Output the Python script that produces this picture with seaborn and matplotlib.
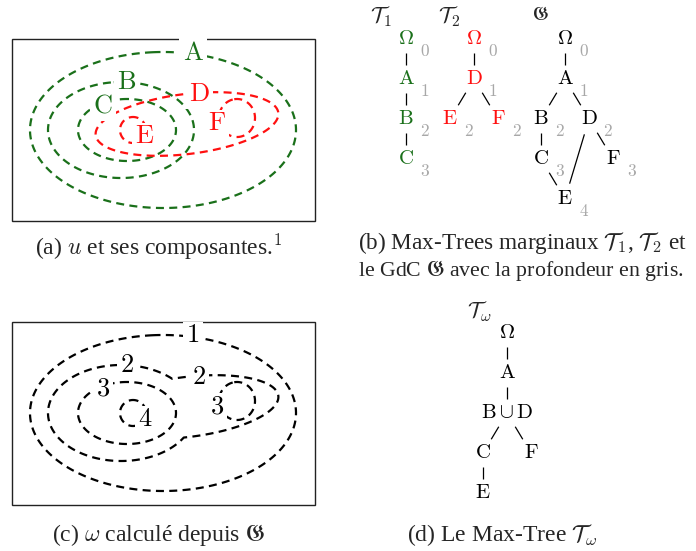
import numpy as np
import matplotlib
matplotlib.use('Agg')
import matplotlib.pyplot as plt
import seaborn as sns

sns.set_theme(style='white')
plt.rcParams['font.family'] = ['Liberation Serif', 'DejaVu Serif']
plt.rcParams['mathtext.fontset'] = 'cm'
plt.rcParams['lines.dashed_pattern'] = [3.6, 2.4]

# components of u (ellipses, in the coordinates of panel (a))
shape_names = ['A', 'B', 'C', 'D', 'E', 'F']
shape_cx = [163, 121, 127, 187, 133, 237]
shape_cy = [130, 130, 130, 124, 130, 118]
shape_rx = [133, 73, 49, 92, 13, 18]
shape_ry = [78, 48, 31, 30, 13, 19]
shape_angle = [0, 0, 0, -7, 0, 0]
shape_tree = [1, 1, 1, 2, 2, 2]
shape_omega = [1, 2, 3, 2, 4, 3]
label_x = [193, 127, 103, 199, 145, 217]
label_y = [53, 83, 106, 95, 137, 124]

GREEN = '#1a701a'
RED = '#ff1010'
GRAY = '#a8a8a8'
tree_colors = {1: GREEN, 2: RED}

# trees: node labels, depth, column
t1_nodes = [r'$\Omega$', r'$\mathrm{A}$', r'$\mathrm{B}$', r'$\mathrm{C}$']
t1_depth = [0, 1, 2, 3]
t1_col = [0, 0, 0, 0]
t1_edges = [(0, 1), (1, 2), (2, 3)]

t2_nodes = [r'$\Omega$', r'$\mathrm{D}$', r'$\mathrm{E}$', r'$\mathrm{F}$']
t2_depth = [0, 1, 2, 2]
t2_col = [0, 0, -1, 1]
t2_edges = [(0, 1), (1, 2), (1, 3)]

g_nodes = [r'$\Omega$', r'$\mathrm{A}$', r'$\mathrm{B}$', r'$\mathrm{D}$',
           r'$\mathrm{C}$', r'$\mathrm{F}$', r'$\mathrm{E}$']
g_depth = [0, 1, 2, 2, 3, 3, 4]
g_col = [0, 0, -1, 1, -1, 2, 0]
g_edges = [(0, 1), (1, 2), (1, 3), (2, 4), (3, 5), (4, 6), (3, 6)]

tw_nodes = [r'$\Omega$', r'$\mathrm{A}$', r'$\mathrm{B}\cup\mathrm{D}$',
            r'$\mathrm{C}$', r'$\mathrm{F}$', r'$\mathrm{E}$']
tw_depth = [0, 1, 2, 3, 3, 4]
tw_col = [0, 0, 0, -1, 1, -1]
tw_edges = [(0, 1), (1, 2), (2, 3), (2, 4), (3, 5)]

ROW = 40
COL = 24

fig = plt.figure(figsize=(6.96, 5.51), dpi=100)
ax = fig.add_axes([0, 0, 1, 1])
ax.set_xlim(0, 696)
ax.set_ylim(551, 0)
ax.axis('off')


def field(X, Y, i):
    t = np.deg2rad(shape_angle[i])
    dx = X - shape_cx[i]
    dy = Y - shape_cy[i]
    u = dx * np.cos(t) + dy * np.sin(t)
    v = -dx * np.sin(t) + dy * np.cos(t)
    return 1 - (u / shape_rx[i]) ** 2 - (v / shape_ry[i]) ** 2


xs = np.linspace(0, 330, 1321)
ys = np.linspace(30, 235, 821)
X, Y = np.meshgrid(xs, ys)
fields = [field(X, Y, i) for i in range(len(shape_names))]

# panel (a)
ax.add_patch(plt.Rectangle((12, 39), 303, 182, fill=False, ec='#222222', lw=1.0, zorder=1))
for i, name in enumerate(shape_names):
    c = tree_colors[shape_tree[i]]
    ax.contour(X, Y, fields[i], levels=[0], colors=[c], linewidths=1.6,
               linestyles='dashed', zorder=2)
    ax.text(label_x[i], label_y[i], r'$\mathrm{%s}$' % name, color=c, fontsize=19,
            ha='center', va='center', zorder=4,
            bbox=dict(boxstyle='square,pad=0.12', fc='white', ec='none'))

# panel (c): omega level sets
dy_c = 283
ax.add_patch(plt.Rectangle((12, 39 + dy_c), 303, 183, fill=False, ec='#222222', lw=1.0, zorder=1))
for lev in sorted(set(shape_omega)):
    f = np.max([fields[i] for i in range(len(shape_names)) if shape_omega[i] == lev], axis=0)
    ax.contour(X, Y + dy_c, f, levels=[0], colors=['black'], linewidths=1.6,
               linestyles='dashed', zorder=2)
for i in range(len(shape_names)):
    ax.text(label_x[i], label_y[i] + dy_c, r'$%d$' % shape_omega[i], color='black', fontsize=19,
            ha='center', va='center', zorder=4,
            bbox=dict(boxstyle='square,pad=0.12', fc='white', ec='none'))


def draw_tree(x0, y0, nodes, depth, col, edges, colors, depth_labels=True, fs=15):
    px = [x0 + c * COL for c in col]
    py = [y0 + d * ROW for d in depth]
    for a, b in edges:
        d = np.hypot(px[b] - px[a], py[b] - py[a])
        ux, uy = (px[b] - px[a]) / d, (py[b] - py[a]) / d
        s = 14 if px[a] == px[b] else 16
        ax.plot([px[a] + ux * s, px[b] - ux * s], [py[a] + uy * s, py[b] - uy * s],
                color='black', lw=0.9, solid_capstyle='butt')
    for k, n in enumerate(nodes):
        ax.text(px[k], py[k], n, color=colors[k], fontsize=fs, ha='center', va='center')
        if depth_labels:
            ax.text(px[k] + 19, py[k] + 13, r'$%d$' % depth[k], color=GRAY, fontsize=12.5,
                    ha='center', va='center')


draw_tree(406, 39, t1_nodes, t1_depth, t1_col, t1_edges, [GREEN] * 4)
draw_tree(474, 39, t2_nodes, t2_depth, t2_col, t2_edges, [RED] * 4)
draw_tree(565, 39, g_nodes, g_depth, g_col, g_edges, ['black'] * 7)
draw_tree(507, 333, tw_nodes, tw_depth, tw_col, tw_edges, ['black'] * 6, depth_labels=False)

ax.text(381, 17, r'$\mathcal{T}_1$', fontsize=16, ha='center', va='center')
ax.text(449, 17, r'$\mathcal{T}_2$', fontsize=16, ha='center', va='center')
ax.text(540, 15, r'$\mathfrak{G}$', fontsize=14, ha='center', va='center')
ax.text(479, 312, r'$\mathcal{T}_\omega$', fontsize=16, ha='center', va='center')

# captions
cap = 17
ax.text(159, 255, r'(a) $u$ et ses composantes.$^1$', fontsize=cap, ha='center', va='baseline')


def fit_text(x, y, s, width, **kw):
    t = ax.text(x, y, s, fontsize=cap, ha='left', va='baseline', **kw)
    r = fig.canvas.get_renderer()
    w = t.get_window_extent(renderer=r).width
    t.set_fontsize(cap * width / w)
    return t


fit_text(358, 249, r'(b) Max-Trees marginaux $\mathcal{T}_1$, $\mathcal{T}_2$ et', 329)
fit_text(358, 276, r'le GdC $\mathfrak{G}$ avec la profondeur en gris.', 326)
ax.text(158, 541, r'(c) $\omega$ calculé depuis $\mathfrak{G}$', fontsize=cap, ha='center', va='baseline')
ax.text(502, 541, r'(d) Le Max-Tree $\mathcal{T}_\omega$', fontsize=cap, ha='center', va='baseline')

fig.savefig('out.png', dpi=100)
